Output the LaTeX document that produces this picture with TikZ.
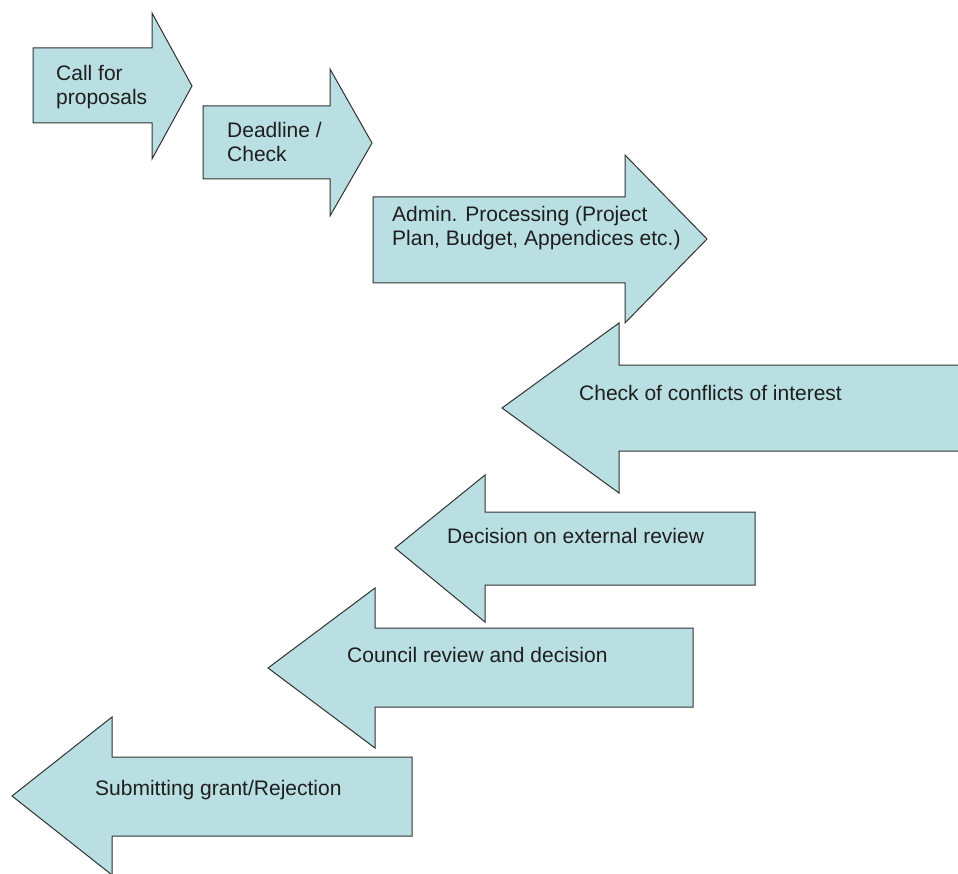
\documentclass[tikz,border=0pt]{standalone}
\usepackage{fontspec}
\setmainfont{Liberation Sans}
\definecolor{arrowfill}{RGB}{185,223,227}
\definecolor{arrowline}{RGB}{50,50,50}
\definecolor{txt}{RGB}{30,30,30}
\tikzset{
  flowarrow/.style={fill=arrowfill, draw=arrowline, line width=1pt, line join=miter},
  lbl/.style={anchor=base west, inner sep=0pt, align=left, text=txt,
    font=\fontsize{21}{24}\selectfont},
}
\begin{document}
\begin{tikzpicture}[x=1pt,y=-1pt]
\useasboundingbox (0,0) rectangle (958,874);
\clip (0,0) rectangle (958,874);
\fill[white] (0,0) rectangle (958,874);
% arrows
\path[flowarrow] (33,48) -- (152,48) -- (152,13) -- (192,86) -- (152,159) -- (152,123) -- (33,123) -- cycle;
\path[flowarrow] (203,106) -- (330,106) -- (330,69) -- (372,143) -- (330,216) -- (330,179) -- (203,179) -- cycle;
\path[flowarrow] (373,197) -- (625,197) -- (625,155) -- (707,239) -- (625,323) -- (625,283) -- (373,283) -- cycle;
\path[flowarrow] (966,365) -- (619,365) -- (619,323) -- (502,408) -- (619,493) -- (619,451) -- (966,451) -- cycle;
\path[flowarrow] (755,512) -- (485,512) -- (485,475) -- (395,548) -- (485,622) -- (485,585) -- (755,585) -- cycle;
\path[flowarrow] (693,628) -- (375,628) -- (375,588) -- (268,668) -- (375,748) -- (375,707) -- (693,707) -- cycle;
\path[flowarrow] (412,757) -- (112,757) -- (112,717) -- (12,796) -- (112,875) -- (112,836) -- (412,836) -- cycle;
% labels (base anchor = baseline of last line)
\node[lbl] (t1) at (56,105) {Call for\\proposals};
\node[lbl] (t2) at (227,162) {Deadline /\\Check};
\node[lbl] (t3) at (392,246) {Admin. Processing (Project\\Plan, Budget, Appendices etc.)};
\node[lbl] (t4) at (579,400) {Check of conflicts of interest};
\node[lbl] (t5) at (447,543) {Decision on external review};
\node[lbl] (t6) at (347,662) {Council review and decision};
\node[lbl] (t7) at (95,795) {Submitting grant/Rejection};
\end{tikzpicture}
\end{document}
